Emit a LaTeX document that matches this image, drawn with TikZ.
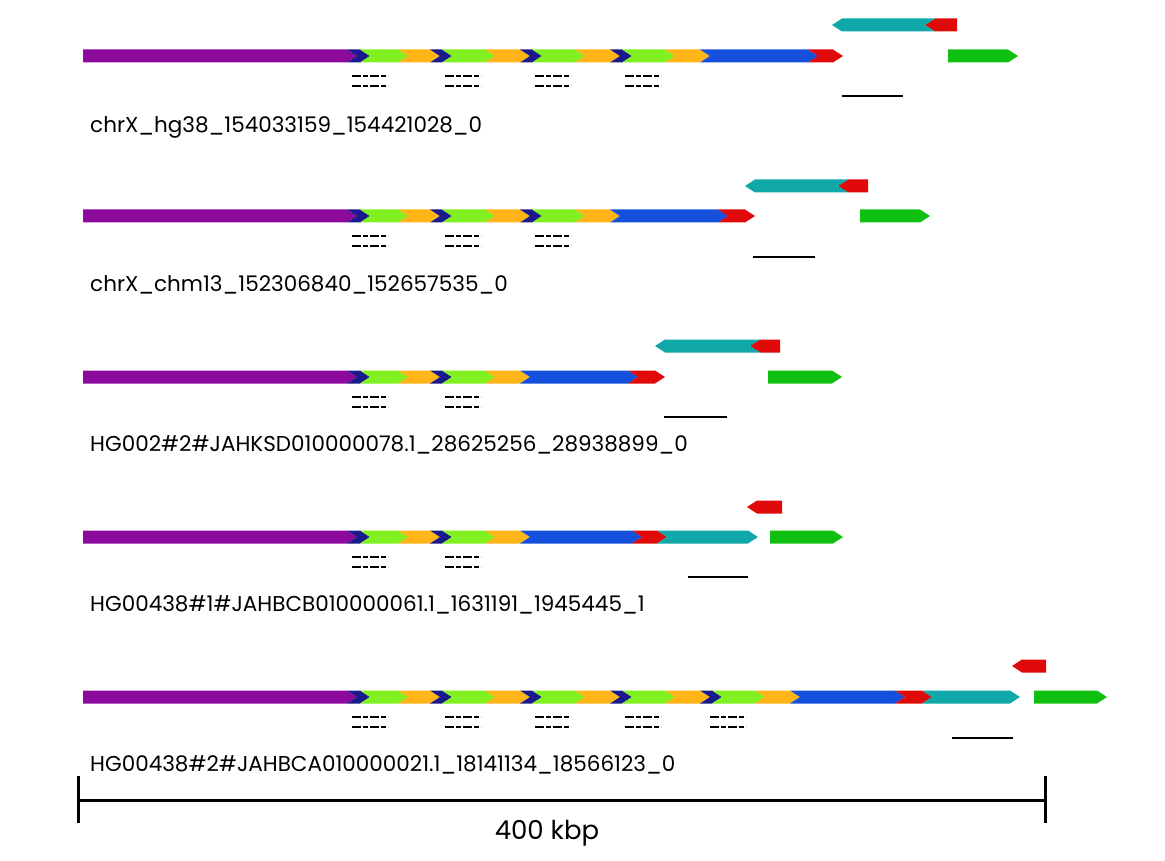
\documentclass[tikz,border=0pt]{standalone}
\usepackage{fontspec}
\setmainfont{Poppins}
\definecolor{cpur}{HTML}{8B0A9B}
\definecolor{cnavy}{HTML}{1A1A8C}
\definecolor{cgrn}{HTML}{80F020}
\definecolor{corg}{HTML}{FFB417}
\definecolor{cblu}{HTML}{1450DC}
\definecolor{cred}{HTML}{E00A0A}
\definecolor{cteal}{HTML}{10A8A8}
\definecolor{cgreen}{HTML}{10C010}
\newcommand{\fseg}[5]{\fill[#4] (#1-#5,#3-6.5) -- (#2-10,#3-6.5) -- (#2,#3) -- (#2-10,#3+6.5) -- (#1-#5,#3+6.5) -- (#1,#3) -- cycle;}
\newcommand{\rseg}[5]{\fill[#4] (#1,#3) -- (#1+10,#3-6.5) -- (#2+#5,#3-6.5) -- (#2,#3) -- (#2+#5,#3+6.5) -- (#1+10,#3+6.5) -- cycle;}
\newcommand{\dsh}[2]{\draw[dashrow] (#1,#2+20) -- ++(36,0); \draw[dashrow] (#1,#2+30) -- ++(36,0);}
\tikzset{dashrow/.style={line width=1.8pt,dash pattern=on 9pt off 2pt on 5pt off 2pt},
 bar/.style={line width=2.2pt},
 lab/.style={anchor=west,font=\fontsize{21.5}{24}\selectfont,inner sep=0}}
\begin{document}
\begin{tikzpicture}[x=1pt,y=-1pt]
\useasboundingbox (0,0) rectangle (1165,861);
\def\reps#1#2{\foreach \a/\b/\c/\d in {#2}{\fseg{\a}{\b}{#1}{cnavy}{10}\fseg{\b}{\c}{#1}{cgrn}{10}\fseg{\c}{\d}{#1}{corg}{10}}}
% Track 1
\fseg{83}{357}{56}{cpur}{0}
\reps{56}{357/370/408/440,440/452/495/530,530/542/585/620,620/632/675/710}
\fseg{710}{818}{56}{cblu}{10}\fseg{818}{843}{56}{cred}{10}
\rseg{925}{957}{25}{cred}{0}\rseg{832}{925}{25}{cteal}{10}
\fseg{948}{1018}{56}{cgreen}{0}
\foreach \x in {352,445,535,625}{\dsh{\x}{56}}
\draw[bar] (842,96) -- (903,96);
\node[lab] (l1) at (90,127) {chrX\_hg38\_154033159\_154421028\_0};
% Track 2
\fseg{83}{357}{216}{cpur}{0}
\reps{216}{357/370/408/440,440/452/495/530,530/542/585/620}
\fseg{620}{728}{216}{cblu}{10}\fseg{728}{755}{216}{cred}{10}
\rseg{838}{868}{186}{cred}{0}\rseg{745}{838}{186}{cteal}{10}
\fseg{860}{930}{216}{cgreen}{0}
\foreach \x in {352,445,535}{\dsh{\x}{216}}
\draw[bar] (753,257) -- (815,257);
\node[lab] (l2) at (90,285) {chrX\_chm13\_152306840\_152657535\_0};
% Track 3
\fseg{83}{357}{377}{cpur}{0}
\reps{377}{357/370/408/440,440/452/495/530}
\fseg{530}{638}{377}{cblu}{10}\fseg{638}{665}{377}{cred}{10}
\rseg{750}{780}{346}{cred}{0}\rseg{655}{750}{346}{cteal}{10}
\fseg{768}{842}{377}{cgreen}{0}
\foreach \x in {352,445}{\dsh{\x}{377}}
\draw[bar] (664,417) -- (727,417);
\node[lab] (l3) at (90,445) {HG002\#2\#JAHKSD010000078.1\_28625256\_28938899\_0};
% Track 4
\fseg{83}{357}{537}{cpur}{0}
\reps{537}{357/370/408/440,440/452/495/530}
\fseg{530}{642}{537}{cblu}{10}\fseg{642}{667}{537}{cred}{10}\fseg{667}{758}{537}{cteal}{10}
\rseg{747}{782}{507}{cred}{0}
\fseg{770}{843}{537}{cgreen}{0}
\foreach \x in {352,445}{\dsh{\x}{537}}
\draw[bar] (688,577) -- (748,577);
\node[lab] (l4) at (90,605) {HG00438\#1\#JAHBCB010000061.1\_1631191\_1945445\_1};
% Track 5
\fseg{83}{357}{697}{cpur}{0}
\reps{697}{357/370/408/440,440/452/495/530,530/542/585/620,620/632/675/710,710/722/765/800}
\fseg{800}{905}{697}{cblu}{10}\fseg{905}{932}{697}{cred}{10}\fseg{932}{1020}{697}{cteal}{10}
\rseg{1012}{1046}{666}{cred}{0}
\fseg{1034}{1107}{697}{cgreen}{0}
\foreach \x in {352,445,535,625,710}{\dsh{\x}{697}}
\draw[bar] (952,738) -- (1013,738);
\node[lab] (l5) at (90,765) {HG00438\#2\#JAHBCA010000021.1\_18141134\_18566123\_0};
% scale bar
\coordinate (sa) at (78,800); \coordinate (sb) at (1045,800);
\draw[line width=3pt] (sa) -- (sb);
\draw[line width=3pt] (78,776) -- (78,823);
\draw[line width=3pt] (1045,776) -- (1045,823);
\node[font=\fontsize{26}{28}\selectfont] (sl) at (547,833) {400 kbp};
\end{tikzpicture}
\end{document}
